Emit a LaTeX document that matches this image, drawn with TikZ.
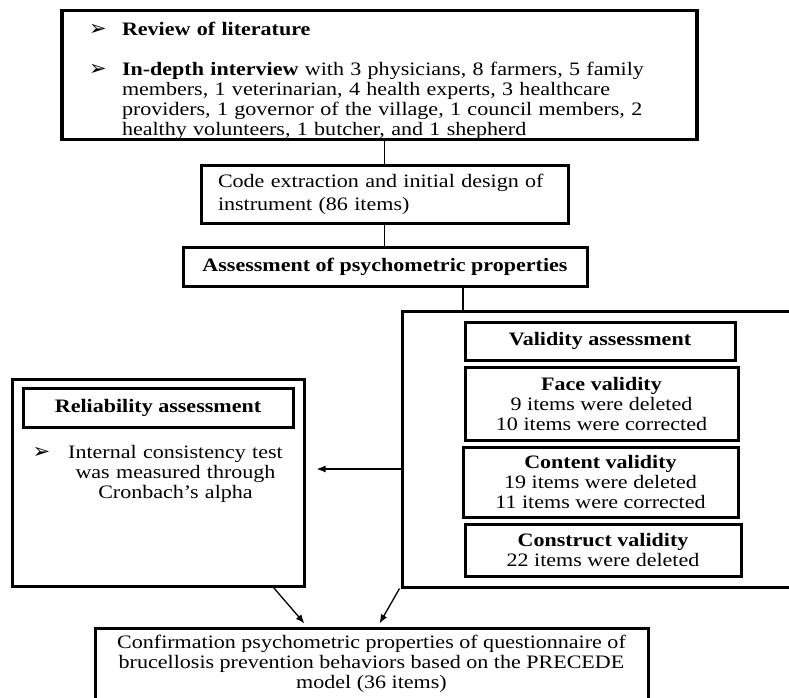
\documentclass[tikz,border=0pt]{standalone}
\usepackage{fontspec}
\setmainfont{Liberation Serif}[FakeStretch=1.16]
\newfontfamily\bulletfont{DejaVu Sans}
\usetikzlibrary{arrows.meta,positioning,calc}
\newcommand{\arrbul}{{\bulletfont\fontsize{21}{21}\selectfont ➢}}

\begin{document}
\begin{tikzpicture}[x=1pt,y=-1pt,
every node/.style={font=\fontsize{19}{20}\selectfont,inner sep=0pt},
box/.style={draw,line width=3pt,align=center},
arr/.style={line width=1.3pt,-{Latex[length=9pt,width=7pt]}}]
\useasboundingbox (0,0) rectangle (789,698);
\node[box,line width=3.5pt,minimum width=635pt,minimum height=126pt,text width=581pt,align=left] (Top) at (379.5,75) {\rule{0pt}{25pt}\makebox[33pt][l]{\arrbul}\textbf{Review of literature}\\[20pt]
\makebox[33pt][l]{\arrbul}\textbf{In-depth interview} with 3 physicians, 8 farmers, 5 family\\
\hspace*{33pt}members, 1 veterinarian, 4 health experts, 3 healthcare\\
\hspace*{33pt}providers, 1 governor of the village, 1 council members, 2\\
\hspace*{33pt}healthy volunteers, 1 butcher, and 1 shepherd};
\node[box,minimum width=367pt,minimum height=58pt,text width=333pt,align=left,font=\fontsize{19}{23}\selectfont] (Code) at (384.5,194) {Code extraction and initial design of\\instrument (86 items)};
\node[box,minimum width=404pt,minimum height=39pt] (Assess) at (385,266.5) {\textbf{Assessment of psychometric properties}};
\node[box,minimum width=292pt,minimum height=207pt] (Rel) at (158,482.5) {};
\node[box,minimum width=270pt,minimum height=39pt] (RelHead) at (158,407.5) {\textbf{Reliability assessment}};
\node[text width=240pt,align=center] (RelText) at (175.5,474) {\llap{\arrbul\hspace{18pt}}Internal consistency test\\was measured through\\Cronbach's alpha};
\node[box,minimum width=398pt,minimum height=276pt] (Val) at (601,449) {};
\node[box,minimum width=270pt,minimum height=38pt] (ValHead) at (600,341) {\textbf{Validity assessment}};
\node[box,minimum width=273pt,minimum height=73pt] (Face) at (601.5,403.5) {\textbf{Face validity}\\9 items were deleted\\10 items were corrected};
\node[box,minimum width=275pt,minimum height=70pt] (Content) at (600.5,482) {\textbf{Content validity}\\19 items were deleted\\11 items were corrected};
\node[box,minimum width=276pt,minimum height=52pt] (Construct) at (603,550) {\textbf{Construct validity}\\22 items were deleted};
\node[box,minimum width=553pt,minimum height=72pt] (Conf) at (371.5,664) {Confirmation psychometric properties of questionnaire of\\brucellosis prevention behaviors based on the PRECEDE\\model (36 items)};
\draw[line width=1.3pt] (Code.north |- Top.south)--(Code.north);
\draw[line width=1.3pt] (Code.south)--(Code.south |- Assess.north);
\draw[line width=1.3pt] ([xshift=78pt]Assess.south)--([xshift=78pt]Assess.south |- Val.north);
\draw[arr,shorten >=11pt] ([yshift=-20pt]Val.west)--([yshift=-20pt]Val.west -| Rel.east);
\draw[arr] ([xshift=-32pt]Rel.south east)--([xshift=-67pt,yshift=3pt]Conf.north);
\draw[arr] ([xshift=-1pt]Val.south west)--([xshift=8pt,yshift=3pt]Conf.north);
\end{tikzpicture}
\end{document}
